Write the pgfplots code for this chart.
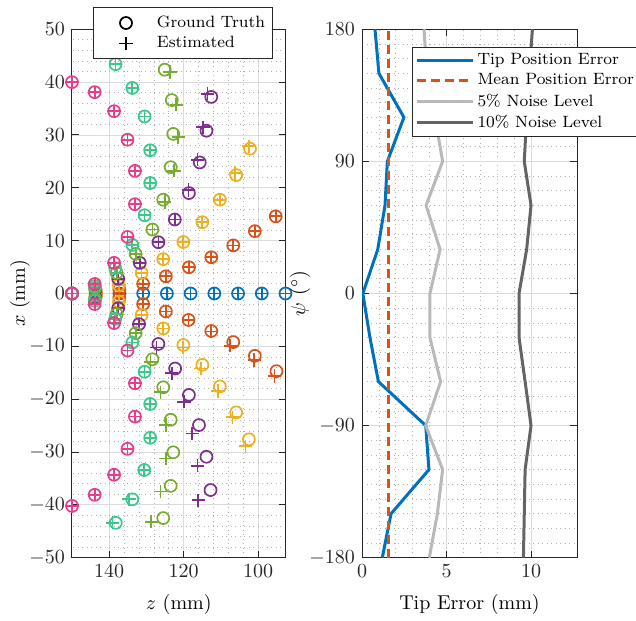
\documentclass[border=0pt]{standalone}
\usepackage{pgfplots}
\pgfplotsset{compat=1.18}
\definecolor{axisgray}{rgb}{0.15,0.15,0.15}
\definecolor{cblue}{RGB}{0,114,189}
\definecolor{corange}{RGB}{217,83,25}
\definecolor{cyellow}{RGB}{237,177,32}
\definecolor{cpurple}{RGB}{126,47,142}
\definecolor{cgreen}{RGB}{119,172,48}
\definecolor{cteal}{RGB}{60,200,140}
\definecolor{cpink}{RGB}{230,62,138}
\definecolor{lgray}{RGB}{185,185,185}
\definecolor{dgray}{RGB}{100,100,100}

\pgfplotsset{
  matlab/.style={
    scale only axis,
    height=264.2pt,
    tick align=inside,
    tick pos=both,
    axis line style={draw=axisgray, line width=0.5pt},
    tick style={draw=axisgray, line width=0.5pt},
    major tick length=3.5pt,
    minor tick length=0pt,
    grid=both,
    major grid style={draw=black!14, line width=0.45pt},
    minor grid style={draw=black!30, line width=0.35pt, dash pattern=on 0.35pt off 1.9pt},
    ticklabel style={font=\fontsize{10}{12}\selectfont, text=axisgray},
    label style={font=\fontsize{10.3}{12}\selectfont, text=axisgray},
    every axis x label/.style={at={(axis description cs:0.5,0)}, anchor=base, yshift=-26pt},
    legend style={font=\fontsize{8.2}{10}\selectfont, draw=axisgray, line width=0.5pt,
      fill=white, row sep=0pt, nodes={inner sep=1.5pt}},
    legend cell align=left,
  },
  gt/.style={only marks, mark=o, mark size=3pt, line width=0.85pt},
  est/.style={only marks, mark=+, mark size=3.3pt, line width=0.85pt},
}

\begin{document}
\begin{tikzpicture}

\begin{axis}[matlab,
  width=106.75pt,
  x dir=reverse,
  xmin=92.67, xmax=150,
  ymin=-50, ymax=50,
  xtick={100,120,140},
  ytick={-50,-40,...,50},
  minor x tick num=4,
  minor y tick num=4,
  clip=false,
  xlabel={$z$ (mm)},
  ylabel={$x$ (mm)},
  every axis y label/.style={at={(axis description cs:-0.2436,0.5)}, rotate=90, anchor=center},
  legend style={at={(0.52,1.0417)}, anchor=north, inner xsep=2pt, inner ysep=2.5pt},
  legend image code/.code={\path[draw=none, fill=none] (0pt,-2pt) rectangle (28pt,2pt); \draw[#1] plot coordinates {(14pt,0pt)};},
]
\addlegendimage{gt, black}
\addlegendimage{est, black}
\legend{Ground Truth, Estimated}

% psi = 0
\addplot[gt, cblue, forget plot] coordinates {(150,0)(143.63,0)(137.26,0)(130.89,0)(124.52,0)(118.15,0)(111.78,0)(105.41,0)(99.04,0)(92.67,0)};
\addplot[est, cblue, forget plot] coordinates {(150,0)(143.63,0)(137.26,0)(130.89,0)(124.52,0)(118.15,0)(111.78,0)(105.41,0)(99.04,0)(92.67,0)};

% psi = +-30
\addplot[gt, corange, forget plot] coordinates {
  (150,0)(143.6,0.2)(137.3,0.8)(130.9,1.8)(124.8,3.25)(118.6,4.96)(112.6,6.85)(106.7,9.1)(100.9,11.8)(95.3,14.6)
  (143.6,-0.2)(137.3,-0.8)(130.9,-2.0)(124.8,-3.4)(118.7,-5.0)(112.6,-7.1)(106.7,-9.2)(100.9,-11.8)(95.1,-14.7)};
\addplot[est, corange, forget plot] coordinates {
  (150,0)(143.6,0.2)(137.3,0.8)(130.9,1.8)(124.8,3.25)(118.6,4.96)(112.6,6.85)(106.7,9.1)(100.9,11.8)(95.3,14.6)
  (143.6,-0.2)(137.3,-0.8)(130.9,-2.0)(124.8,-3.4)(118.7,-5.0)(112.6,-7.2)(107.5,-9.9)(101.1,-12.6)(95.6,-15.6)};

% psi = +-60
\addplot[gt, cyellow, forget plot] coordinates {
  (150,0)(143.6,0.4)(137.4,1.55)(131.3,3.9)(125.5,6.5)(120.1,9.75)(115.0,13.5)(110.3,17.75)(105.9,22.4)(102.2,27.4)
  (143.6,-0.4)(137.4,-1.55)(131.3,-4.07)(125.5,-6.6)(120.1,-9.75)(115.0,-13.5)(110.3,-17.6)(105.9,-22.5)(102.5,-27.6)};
\addplot[est, cyellow, forget plot] coordinates {
  (150,0)(143.6,0.4)(137.4,1.55)(131.3,3.9)(125.5,6.5)(120.1,9.75)(115.0,13.5)(110.3,17.75)(106.2,22.8)(102.5,27.85)
  (143.6,-0.4)(137.4,-1.55)(131.3,-4.07)(125.5,-6.6)(120.1,-10.2)(115.4,-14.2)(110.8,-18.45)(106.9,-23.4)(103.4,-28.9)};

% psi = +-90
\addplot[gt, cpurple, forget plot] coordinates {
  (150,0)(143.7,0.7)(137.6,2.8)(131.8,5.8)(126.8,9.7)(122.4,14.0)(118.6,19.0)(115.7,24.8)(113.9,30.8)(112.6,37.2)
  (143.7,-0.7)(137.6,-2.8)(132.0,-5.8)(126.8,-9.55)(122.3,-14.2)(118.6,-19.2)(115.9,-24.9)(113.9,-30.9)(112.8,-37.2)};
\addplot[est, cpurple, forget plot] coordinates {
  (150,0)(143.7,0.7)(137.6,2.8)(131.8,5.8)(126.8,9.7)(122.4,14.0)(118.7,19.6)(116.3,25.3)(114.8,31.45)(113.6,37.8)
  (143.7,-0.7)(137.6,-2.8)(132.0,-5.8)(127.3,-10.2)(123.2,-15.1)(119.9,-20.5)(117.7,-26.5)(116.3,-32.6)(116.1,-39.1)};

% psi = +-120
\addplot[gt, cgreen, forget plot] coordinates {
  (150,0)(143.8,1.0)(138.0,3.9)(132.9,7.5)(128.4,12.1)(125.5,17.75)(123.5,23.9)(122.8,30.2)(123.2,36.6)(125.1,42.35)
  (143.8,-1.0)(138.0,-3.9)(132.9,-7.5)(128.4,-12.45)(125.5,-17.75)(123.5,-23.9)(122.8,-30.05)(123.5,-36.4)(125.5,-42.5)};
\addplot[est, cgreen, forget plot] coordinates {
  (150,0)(143.8,1.0)(138.0,3.9)(132.9,7.5)(128.4,12.1)(125.1,17.3)(122.6,23.2)(121.5,29.6)(122.0,35.7)(123.7,41.9)
  (143.8,-1.0)(138.0,-3.9)(132.9,-7.5)(128.9,-12.9)(126.2,-18.7)(124.8,-24.9)(124.8,-31.2)(126.2,-37.5)(128.7,-43.2)};

% psi = +-150
\addplot[gt, cteal, forget plot] coordinates {
  (150,0)(143.9,1.4)(138.4,4.8)(133.8,9.2)(130.5,14.8)(129.0,20.9)(129.0,27.1)(130.5,33.5)(133.8,38.9)(138.3,43.4)
  (143.9,-1.4)(138.4,-4.8)(133.8,-9.3)(130.5,-14.8)(129.0,-20.9)(129.0,-27.3)(130.6,-33.4)(133.8,-38.95)(138.25,-43.4)};
\addplot[est, cteal, forget plot] coordinates {
  (150,0)(143.9,1.4)(138.4,4.8)(133.8,9.2)(130.5,14.8)(129.0,20.9)(129.0,27.1)(130.5,33.5)(133.8,38.9)(138.3,43.4)
  (143.9,-1.4)(138.4,-4.8)(133.8,-9.3)(130.5,-14.8)(129.0,-20.9)(129.0,-27.3)(130.6,-33.4)(134.7,-38.95)(139.1,-43.4)};

% psi = +-180
\addplot[gt, cpink, forget plot] coordinates {
  (150,0)(143.9,1.8)(138.7,5.8)(135.1,10.7)(133.1,16.9)(133.1,23.2)(135.1,29.1)(138.7,34.5)(143.9,38.1)(150,40.0)
  (143.9,-2.0)(138.7,-5.6)(135.1,-10.8)(133.1,-17.0)(133.1,-23.3)(135.1,-29.4)(138.7,-34.3)(143.9,-38.1)(150,-40.2)};
\addplot[est, cpink, forget plot] coordinates {
  (150,0)(143.9,1.8)(138.7,5.8)(135.1,10.7)(133.1,16.9)(133.1,23.2)(135.1,29.1)(138.7,34.5)(143.9,38.1)(150,40.0)
  (143.9,-2.0)(138.7,-5.6)(135.1,-10.8)(133.1,-17.0)(133.1,-23.3)(135.1,-29.4)(138.7,-34.3)(143.9,-38.1)(150,-40.2)};
\end{axis}

\begin{axis}[matlab,
  at={(145pt,0pt)},
  width=107.5pt,
  xmin=0, xmax=12.72,
  ymin=-180, ymax=180,
  xtick={0,5,10},
  ytick={-180,-90,0,90,180},
  minor x tick num=4,
  minor y tick num=8,
  xlabel={Tip Error (mm)},
  ylabel={$\psi$ ($^\circ$)},
  every axis y label/.style={at={(axis description cs:-0.288,0.5)}, rotate=90, anchor=center},
  legend style={at={(0.2326,0.9665)}, anchor=north west, inner xsep=1.5pt, inner ysep=1.5pt},
  legend image code/.code={\draw[#1] (0pt,0pt) -- (28pt,0pt);},
]
\addplot[cblue, line width=1.5pt] coordinates {
  (0.77,180)(1.0,150)(2.48,120)(1.5,90)(1.36,60)(0.93,30)(0.05,0)(0.47,-30)(0.97,-60)(3.77,-90)(3.96,-120)(1.72,-150)(1.2,-180)};
\addlegendentry{Tip Position Error}
\addplot[corange, line width=1.5pt, dash pattern=on 4.5pt off 2.5pt] coordinates {(1.55,-180)(1.55,180)};
\addlegendentry{Mean Position Error}
\addplot[lgray, line width=1.5pt] coordinates {
  (3.67,180)(3.83,150)(4.32,120)(4.77,90)(3.79,60)(4.62,30)(4.02,0)(4.02,-30)(4.65,-60)(3.77,-90)(4.77,-120)(4.46,-150)(3.98,-180)};
\addlegendentry{5\% Noise Level}
\addplot[dgray, line width=1.5pt] coordinates {
  (10.08,180)(9.9,150)(9.74,120)(9.6,90)(10.0,60)(9.74,30)(9.29,0)(9.29,-30)(9.65,-60)(10.0,-90)(9.65,-120)(9.6,-150)(9.55,-180)};
\addlegendentry{10\% Noise Level}
\end{axis}

\pgfresetboundingbox
\path[use as bounding box] (-36pt,-31.15pt) rectangle (282pt,278.85pt);
\end{tikzpicture}
\end{document}
